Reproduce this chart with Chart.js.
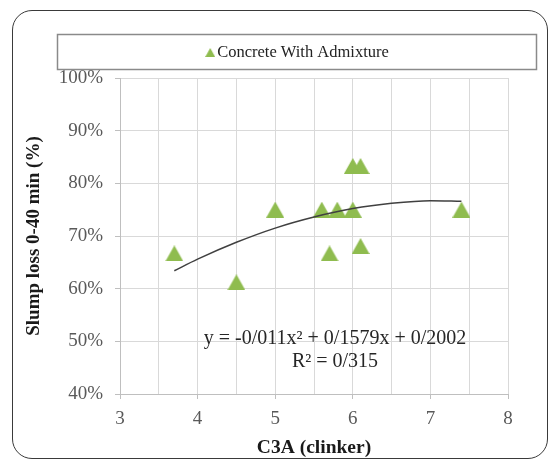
<!DOCTYPE html>
<html>
<head>
<meta charset="utf-8">
<script src="https://cdn.jsdelivr.net/npm/chart.js@4"></script>
<style>
  html, body { margin: 0; padding: 0; background: #fff; }
  #wrap { position: relative; width: 549px; height: 460px; overflow: hidden; }
  #frame {
    position: absolute; left: 12px; top: 10px; width: 536px; height: 449px;
    box-sizing: border-box; border: 1.5px solid #3a3a3a; border-radius: 20px;
  }
  #chart { position: absolute; left: 0; top: 0; }
</style>
</head>
<body>
<div id="wrap">
  <div id="frame"></div>
  <canvas id="chart" width="549" height="460"></canvas>
</div>
<script>
// values
const c3a = [3.7, 4.5, 5.0, 5.6, 5.7, 5.8, 6.0, 6.0, 6.1, 6.1, 7.4];
const slumpLoss = [66.7, 61.2, 75, 75, 66.7, 75, 75, 83.3, 68.1, 83.3, 75];
const trendX = [3.7, 4.0, 4.5, 5.0, 5.5, 6.0, 6.5, 7.0, 7.4];
const trendY = [63.4, 65.6, 68.8, 71.5, 73.6, 75.2, 76.2, 76.7, 76.6];
const seriesName = "Concrete With Admixture";
const equationLines = ["y = -0/011x² + 0/1579x + 0/2002", "R² = 0/315"];

const green = "#8fbc4f";
const serif = "'Liberation Serif', 'Times New Roman', serif";

function makeTriangle(w, h, color) {
  const c = document.createElement("canvas");
  c.width = w;
  c.height = h;
  const g = c.getContext("2d");
  g.fillStyle = color;
  g.beginPath();
  g.moveTo(w / 2, 0);
  g.lineTo(w, h);
  g.lineTo(0, h);
  g.closePath();
  g.fill();
  return c;
}

const bigTriangle = makeTriangle(18, 16, green);
const smallTriangle = makeTriangle(10, 9, green);

// legend box and trendline equation, as Excel places them
const annotations = {
  id: "annotations",
  afterDraw(chart) {
    const ctx = chart.ctx;
    ctx.save();
    ctx.strokeStyle = "#8a8a8a";
    ctx.lineWidth = 1.5;
    ctx.strokeRect(57.5, 34.5, 479, 35);

    ctx.font = "16.5px " + serif;
    ctx.fillStyle = "#222";
    ctx.textBaseline = "middle";
    ctx.textAlign = "left";
    const textW = ctx.measureText(seriesName).width;
    const startX = 297 - (textW + 12) / 2;
    ctx.drawImage(smallTriangle, startX, 48);
    ctx.fillText(seriesName, startX + 12, 53);

    ctx.font = "20px " + serif;
    ctx.fillStyle = "#262626";
    ctx.textAlign = "center";
    ctx.fillText(equationLines[0], 335, 339);
    ctx.fillText(equationLines[1], 335, 362);
    ctx.restore();
  },
};

new Chart(document.getElementById("chart"), {
  type: "scatter",
  data: {
    datasets: [
      {
        label: seriesName,
        data: c3a.map((x, i) => ({ x, y: slumpLoss[i] })),
        pointStyle: bigTriangle,
        pointRadius: 9,
        backgroundColor: green,
        order: 1,
      },
      {
        type: "line",
        label: "Poly. trend",
        data: trendX.map((x, i) => ({ x, y: trendY[i] })),
        borderColor: "#404040",
        borderWidth: 1.5,
        pointRadius: 0,
        cubicInterpolationMode: "monotone",
        fill: false,
        order: 0,
      },
    ],
  },
  options: {
    responsive: false,
    animation: false,
    layout: { padding: { left: 0, right: 41, top: 78, bottom: 0 } },
    scales: {
      x: {
        type: "linear",
        min: 3,
        max: 8,
        afterFit: (scale) => { scale.height = 66; },
        ticks: {
          stepSize: 0.5,
          padding: 9,
          color: "#595959",
          font: { family: serif, size: 19 },
          callback: (v) => (Number.isInteger(v) ? String(v) : ""),
        },
        grid: {
          color: "#d9d9d9",
          tickLength: 5,
          tickColor: (ctx) =>
            ctx.tick && Number.isInteger(ctx.tick.value) ? "#bfbfbf" : "rgba(0,0,0,0)",
        },
        border: { color: "#bfbfbf" },
        title: {
          display: true,
          text: "C3A (clinker)",
          color: "#1a1a1a",
          font: { family: serif, size: 19.5, weight: "bold" },
          padding: { top: 0, bottom: 0 },
        },
      },
      y: {
        min: 40,
        max: 100,
        afterFit: (scale) => { scale.width = 120; },
        ticks: {
          stepSize: 10,
          padding: 12,
          color: "#595959",
          font: { family: serif, size: 19 },
          callback: (v) => v + "%",
        },
        grid: { color: "#d9d9d9", tickLength: 5, tickColor: "#bfbfbf" },
        border: { color: "#bfbfbf" },
        title: {
          display: true,
          text: "Slump loss 0-40 min (%)",
          color: "#1a1a1a",
          font: { family: serif, size: 19, weight: "bold" },
          padding: { top: 23, bottom: 0 },
        },
      },
    },
    plugins: {
      legend: { display: false },
      tooltip: { enabled: false },
    },
  },
  plugins: [annotations],
});
</script>
</body>
</html>
